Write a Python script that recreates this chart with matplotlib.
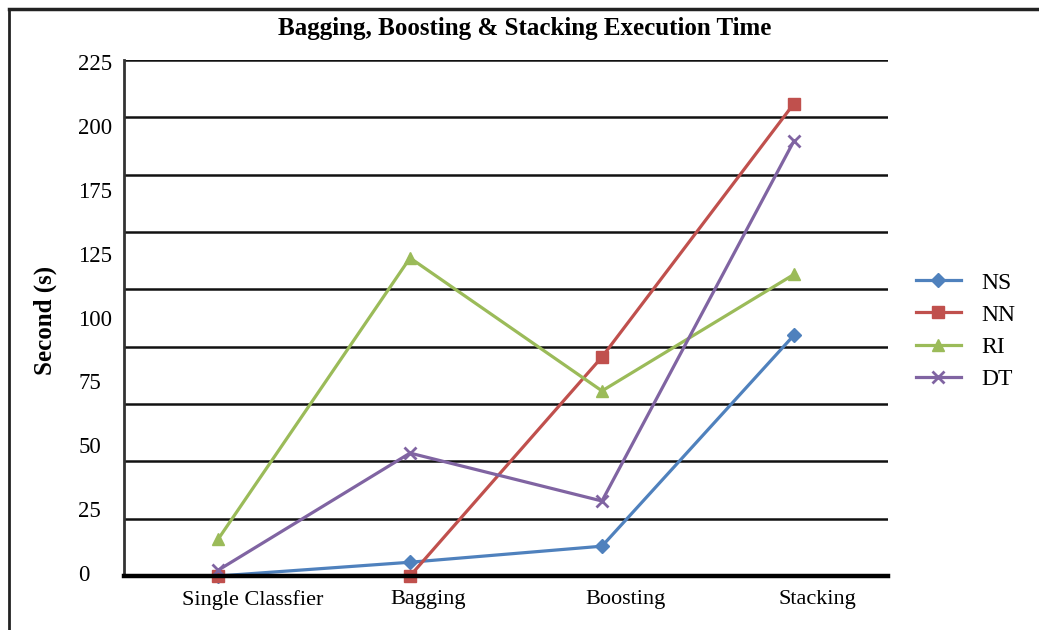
import numpy as np
import matplotlib
matplotlib.use("Agg")
import matplotlib.pyplot as plt
from matplotlib.lines import Line2D
from matplotlib.transforms import ScaledTranslation

plt.rcParams['font.family'] = ['Liberation Serif', 'DejaVu Serif']

# ---- data -------------------------------------------------------------
categories = ["Single Classfier", "Bagging", "Boosting", "Stacking"]
ns_times = [0, 6, 13, 105]
nn_times = [0, 0, 95.5, 206]
ri_times = [16, 138.7, 80.7, 131.5]
dt_times = [2.5, 53.6, 32.7, 189.7]

grid_values = list(range(0, 226, 25))
ytick_labels = ["225", "200", "175", "125", "100", "75", "50", "25", "0"]

series = [
    ("NS", ns_times, "#4F81BD", "D", 7),
    ("NN", nn_times, "#C0504D", "s", 8),
    ("RI", ri_times, "#9BBB59", "^", 9),
    ("DT", dt_times, "#8064A2", "x", 9),
]

# ---- figure -----------------------------------------------------------
W, H = 1039, 630
fig = plt.figure(figsize=(W / 100, H / 100), dpi=100)
ax = fig.add_axes([124 / W, 1 - 576 / H, (888 - 124) / W, (576 - 60) / H])

x = np.arange(len(categories))
for name, vals, color, marker, ms in series:
    ax.plot(x, vals, color=color, lw=2.3, marker=marker, ms=ms,
            mew=2 if marker == "x" else 1, mec=color, mfc=color,
            label=name, zorder=3, clip_on=False)

ax.set_xlim(-0.49, 3.49)
ax.set_ylim(0, 225)

# horizontal grid at every 25 s
ax.set_yticks(grid_values, minor=True)
ax.grid(which="minor", axis="y", color="#111111", lw=1.8)
ax.tick_params(which="minor", length=0)

# value labels on the left, evenly spread
label_pos = np.linspace(224.1, 1.3, len(ytick_labels))
ax.set_yticks(label_pos)
ax.set_yticklabels(ytick_labels, fontsize=16.5, ha="left")
ax.tick_params(axis="y", which="major", length=0, pad=33)

ax.set_xticks(x)
ax.set_xticklabels(categories, fontsize=16)
ax.tick_params(axis="x", length=0, pad=10)
shifts = [35, 18, 24, 23]
for lbl, dx in zip(ax.get_xticklabels(), shifts):
    lbl.set_transform(lbl.get_transform() +
                      ScaledTranslation(dx / 100, 0, fig.dpi_scale_trans))

for side in ("top", "right"):
    ax.spines[side].set_visible(False)
ax.spines["left"].set_color("#333333")
ax.spines["left"].set_linewidth(2)
ax.spines["bottom"].set_color("black")
ax.spines["bottom"].set_linewidth(3.2)
ax.spines["bottom"].set_zorder(4)

# title and axis label
fig.text(525 / W, 1 - 29 / H, "Bagging, Boosting & Stacking Execution Time",
         ha="center", va="center", fontsize=18, fontweight="bold")
fig.text(45 / W, 1 - 320 / H, "Second (s)", rotation=90,
         ha="center", va="center", fontsize=18, fontweight="bold")

# legend
fig.legend(loc="center left", bbox_to_anchor=(916 / W, 1 - 331 / H),
           frameon=False, fontsize=17, handlelength=1.9,
           handletextpad=0.85, labelspacing=0.45, borderpad=0,
           borderaxespad=0)

# outer frame (left and top edges)
fig.add_artist(Line2D([8.5 / W, 8.5 / W], [0, 1 - 9 / H],
                      transform=fig.transFigure, color="#222222", lw=2))
fig.add_artist(Line2D([8.5 / W, 1], [1 - 9 / H, 1 - 9 / H],
                      transform=fig.transFigure, color="#222222", lw=2.5))

fig.savefig("out.png", dpi=100)
